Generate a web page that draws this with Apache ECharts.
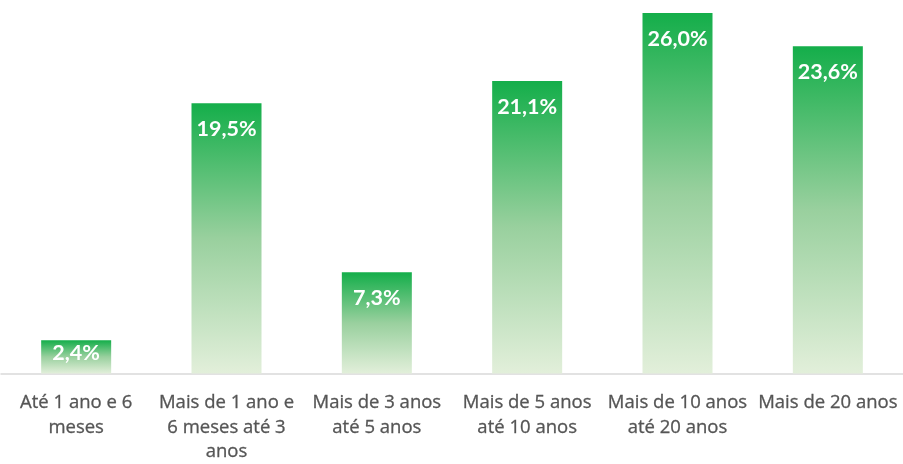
<!DOCTYPE html>
<html>
<head>
<meta charset="utf-8">
<script src="https://cdn.jsdelivr.net/npm/echarts@6/dist/echarts.min.js"></script>
<style>
  html, body { margin: 0; padding: 0; background: #ffffff; }
  #chart { width: 903px; height: 464px; }
</style>
</head>
<body>
<div id="chart"></div>
<script>
// Faixas de tempo (eixo das categorias)
const categories = [
  'Até 1 ano e 6\nmeses',
  'Mais de 1 ano e\n6 meses até 3\nanos',
  'Mais de 3 anos\naté 5 anos',
  'Mais de 5 anos\naté 10 anos',
  'Mais de 10 anos\naté 20 anos',
  'Mais de 20 anos'
];
// Percentual em cada faixa
const values = [2.4, 19.5, 7.3, 21.1, 26.0, 23.6];

// Barras curtas: rótulo mais próximo do topo para caber dentro da barra
const seriesData = values.map(v => v < 5 ? { value: v, label: { distance: 1.5 } } : v);

const chart = echarts.init(document.getElementById('chart'));
chart.setOption({
  animation: false,
  grid: { left: 1, width: 905, top: 13, height: 365 },
  xAxis: {
    type: 'category',
    data: categories,
    axisLine: { lineStyle: { color: '#d9d9d9', width: 1.5 } },
    axisTick: { show: false },
    axisLabel: {
      interval: 0,
      margin: 17,
      color: '#555555',
      textBorderColor: '#555555',
      textBorderWidth: 0.3,
      fontFamily: '"Open Sans", Lato, sans-serif',
      fontSize: 18.5,
      lineHeight: 24.5
    }
  },
  yAxis: {
    type: 'value',
    min: 0,
    max: 26,
    show: false,
    splitLine: { show: false }
  },
  series: [{
    type: 'bar',
    data: seriesData,
    barWidth: 70,
    itemStyle: {
      color: new echarts.graphic.LinearGradient(0, 0, 0, 1, [
        { offset: 0, color: '#14ae4a' },
        { offset: 0.5, color: '#99d09e' },
        { offset: 1, color: '#e2efda' }
      ])
    },
    label: {
      show: true,
      position: 'insideTop',
      distance: 15,
      color: '#ffffff',
      fontWeight: 'bold',
      fontFamily: 'Lato, "Open Sans", sans-serif',
      fontSize: 21.5,
      formatter: p => p.value.toFixed(1).replace('.', ',') + '%'
    }
  }]
});
</script>
</body>
</html>
